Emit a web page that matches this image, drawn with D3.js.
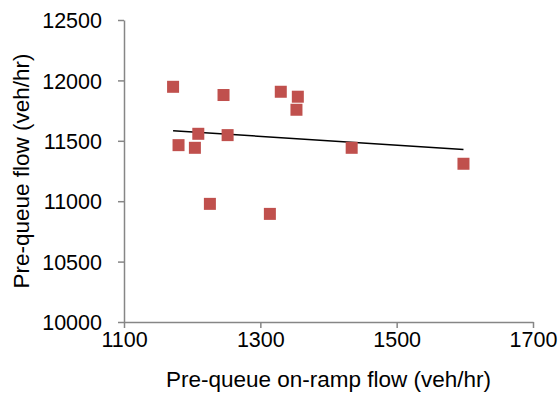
<!DOCTYPE html>
<html>
<head>
<meta charset="utf-8">
<script src="https://cdn.jsdelivr.net/npm/d3@7"></script>
<style>
  body { margin: 0; background: #fff; }
  text { font-family: "Liberation Sans", Arial, sans-serif; fill: #000; }
</style>
</head>
<body>
<div id="chart"></div>
<script>
// Pre-queue on-ramp flow (x) vs pre-queue flow (y)
var rampFlow = [1172, 1180, 1204, 1209, 1226, 1246, 1252, 1314, 1330, 1355, 1353, 1434, 1598];
var queueFlow = [11947, 11464, 11442, 11558, 10978, 11879, 11547, 10895, 11906, 11865, 11757, 11442, 11310];
var xTicks = [1100, 1300, 1500, 1700];
var yTicks = [10000, 10500, 11000, 11500, 12000, 12500];

function init() {
    var svgWidth = 559, svgHeight = 397;
    var left = 124, right = 533, top = 20, bottom = 322;

    var xScale = d3.scaleLinear().domain([1100, 1700]).range([left, right]);
    var yScale = d3.scaleLinear().domain([10000, 12500]).range([bottom, top]);

    var svg = d3.select("#chart").append("svg")
        .attr("width", svgWidth)
        .attr("height", svgHeight);

    // Axes
    var xAxis = d3.axisBottom(xScale).tickValues(xTicks).tickFormat(d3.format("d"))
        .tickSize(6).tickSizeOuter(0).tickPadding(4);
    var yAxis = d3.axisLeft(yScale).tickValues(yTicks).tickFormat(d3.format("d"))
        .tickSize(6).tickSizeOuter(0).tickPadding(16);

    var gx = svg.append("g")
        .attr("transform", "translate(0," + bottom + ")")
        .call(xAxis);
    var gy = svg.append("g")
        .attr("transform", "translate(" + left + ",0)")
        .call(yAxis);

    [gx, gy].forEach(function(g) {
        g.selectAll("path, line").attr("stroke", "#868686").attr("stroke-width", 1.5);
        g.selectAll("text").attr("font-size", "21.5px").attr("fill", "#000")
            .style("font-family", "Liberation Sans, Arial, sans-serif");
    });
    gy.selectAll("text").attr("dy", "0.36em");

    // Data pairs
    var points = rampFlow.map(function(x, i) { return { x: x, y: queueFlow[i] }; });

    // Linear trendline (least squares)
    var mx = d3.mean(rampFlow), my = d3.mean(queueFlow);
    var sxy = d3.sum(points, function(d) { return (d.x - mx) * (d.y - my); });
    var sxx = d3.sum(points, function(d) { return (d.x - mx) * (d.x - mx); });
    var slope = sxy / sxx, intercept = my - slope * mx;
    var xMin = d3.min(rampFlow), xMax = d3.max(rampFlow);

    svg.append("line")
        .attr("x1", xScale(xMin))
        .attr("y1", yScale(intercept + slope * xMin))
        .attr("x2", xScale(xMax))
        .attr("y2", yScale(intercept + slope * xMax))
        .attr("stroke", "#000")
        .attr("stroke-width", 1.5);

    // Square markers
    var size = 12;
    svg.selectAll("rect.pt")
        .data(points)
        .enter()
        .append("rect")
        .attr("class", "pt")
        .attr("x", function(d) { return xScale(d.x) - size / 2; })
        .attr("y", function(d) { return yScale(d.y) - size / 2; })
        .attr("width", size)
        .attr("height", size)
        .attr("fill", "#C0504D");

    // Axis titles
    svg.append("text")
        .attr("x", (left + right) / 2)
        .attr("y", 387)
        .attr("text-anchor", "middle")
        .attr("font-size", "22.5px")
        .text("Pre-queue on-ramp flow (veh/hr)");

    svg.append("text")
        .attr("transform", "translate(29," + ((top + bottom) / 2) + ") rotate(-90)")
        .attr("text-anchor", "middle")
        .attr("font-size", "22.5px")
        .text("Pre-queue flow (veh/hr)");
}
window.onload = init;
</script>
</body>
</html>
